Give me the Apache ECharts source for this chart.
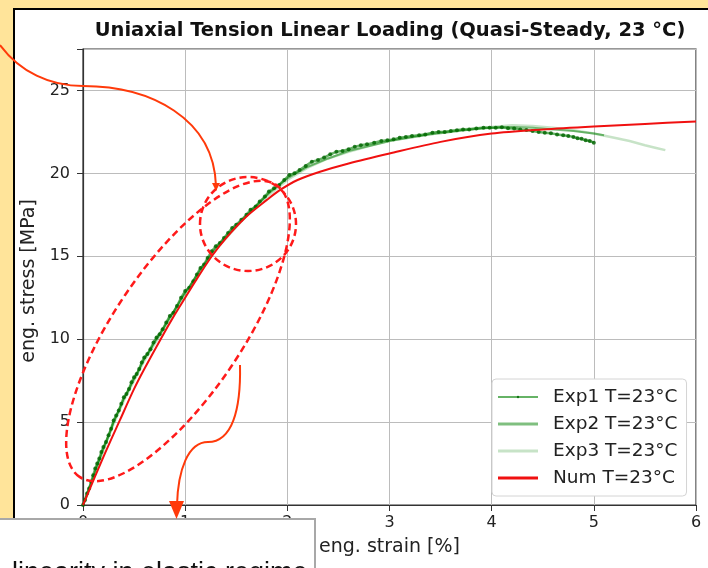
<!DOCTYPE html>
<html>
<head>
<meta charset="utf-8">
<script src="https://cdn.jsdelivr.net/npm/echarts@6/dist/echarts.min.js"></script>
<style>
  html, body { margin: 0; padding: 0; }
  #chart { width: 708px; height: 568px; }
</style>
</head>
<body>
<div id="chart"></div>
<script>
// experiment 1 (dotted, ends at 5 %)
var exp1Strain = [0, 0.02, 0.04, 0.06, 0.08, 0.1, 0.12, 0.14, 0.16, 0.18, 0.2, 0.225, 0.25, 0.275, 0.3, 0.325, 0.35, 0.375,
  0.4, 0.425, 0.45, 0.475, 0.5, 0.525, 0.55, 0.575, 0.6, 0.63, 0.66, 0.69, 0.72, 0.75, 0.78, 0.815, 0.85, 0.885, 0.92, 0.96,
  1.0, 1.04, 1.08, 1.115, 1.15, 1.185, 1.22, 1.26, 1.3, 1.34, 1.38, 1.42, 1.46, 1.5, 1.55, 1.6, 1.64, 1.69, 1.73, 1.78,
  1.82, 1.87, 1.92, 1.97, 2.02, 2.07, 2.12, 2.18, 2.24, 2.3, 2.36, 2.42, 2.48, 2.54, 2.6, 2.66, 2.72, 2.78, 2.85, 2.92,
  2.98, 3.04, 3.1, 3.16, 3.22, 3.29, 3.35, 3.42, 3.48, 3.54, 3.6, 3.66, 3.72, 3.78, 3.85, 3.92, 3.98, 4.04, 4.1, 4.16,
  4.22, 4.28, 4.34, 4.4, 4.46, 4.52, 4.58, 4.64, 4.7, 4.75, 4.8, 4.84, 4.88, 4.92, 4.96, 5.0]
var exp1Stress = [0, 0.3, 0.7, 1.0, 1.4, 1.8, 2.2, 2.5, 2.8, 3.2, 3.5, 3.8, 4.2, 4.6, 5.1, 5.4, 5.7, 6.1,
  6.5, 6.7, 7.0, 7.4, 7.7, 7.9, 8.2, 8.6, 8.9, 9.1, 9.4, 9.8, 10.1, 10.3, 10.6, 11.0, 11.4, 11.6, 12.0, 12.5,
  12.9, 13.1, 13.5, 13.9, 14.3, 14.5, 14.9, 15.3, 15.6, 15.8, 16.1, 16.4, 16.7, 16.9, 17.2, 17.5, 17.8, 18.0, 18.3, 18.6,
  18.9, 19.1, 19.3, 19.6, 19.9, 20.0, 20.2, 20.45, 20.7, 20.8, 20.95, 21.15, 21.3, 21.35, 21.45, 21.6, 21.7, 21.75, 21.85, 21.95,
  22.0, 22.05, 22.15, 22.2, 22.25, 22.3, 22.35, 22.45, 22.5, 22.5, 22.55, 22.6, 22.65, 22.65, 22.7, 22.75, 22.75, 22.75, 22.78, 22.72,
  22.7, 22.65, 22.62, 22.55, 22.5, 22.45, 22.42, 22.35, 22.3, 22.25, 22.2, 22.12, 22.08, 22.0, 21.95, 21.85]

// experiment 2
var exp2Strain = [0, 0.1, 0.2, 0.3, 0.4, 0.5, 0.6, 0.72, 0.85, 1.0, 1.15, 1.3, 1.46, 1.64, 1.82, 2.0, 2.2, 2.4, 2.6, 2.8,
  3.0, 3.2, 3.4, 3.6, 3.8, 4.0, 4.2, 4.4, 4.6, 4.8, 5.0, 5.1]
var exp2Stress = [0, 1.7, 3.4, 5.0, 6.4, 7.6, 8.8, 10.0, 11.3, 12.8, 14.2, 15.5, 16.6, 17.7, 18.8, 19.7, 20.4, 20.9, 21.35, 21.65,
  21.95, 22.15, 22.35, 22.5, 22.65, 22.75, 22.8, 22.75, 22.65, 22.55, 22.4, 22.3]

// experiment 3 (lightest, longest)
var exp3Strain = [0, 0.1, 0.2, 0.3, 0.4, 0.5, 0.6, 0.72, 0.85, 1.0, 1.15, 1.3, 1.46, 1.64, 1.82, 2.0, 2.2, 2.4, 2.6, 2.8,
  3.0, 3.2, 3.4, 3.6, 3.8, 4.0, 4.2, 4.4, 4.6, 4.8, 5.0, 5.2, 5.35, 5.5, 5.6, 5.7]
var exp3Stress = [0, 1.6, 3.3, 4.9, 6.3, 7.5, 8.7, 9.9, 11.2, 12.7, 14.1, 15.4, 16.5, 17.7, 18.7, 19.6, 20.35, 20.9, 21.3, 21.65,
  21.95, 22.2, 22.4, 22.55, 22.7, 22.8, 22.9, 22.85, 22.75, 22.6, 22.4, 22.15, 21.95, 21.7, 21.55, 21.4]

// numerical model
var numStrain = [0, 0.2, 0.36, 0.5, 0.6, 0.76, 0.9, 1.0, 1.1, 1.26, 1.4, 1.6, 1.8, 1.93, 2.1, 2.32, 2.6, 3.0, 3.5, 4.0,
  4.5, 5.0, 5.5, 6.0]
var numStress = [0, 2.9, 5.1, 7.0, 8.2, 10.0, 11.5, 12.5, 13.5, 15.0, 16.1, 17.4, 18.4, 19.0, 19.6, 20.1, 20.6, 21.2, 21.9, 22.4,
  22.65, 22.83, 22.98, 23.13]

var strainTicks = [0, 1, 2, 3, 4, 5, 6]
var stressTicks = [0, 5, 10, 15, 20, 25]

function pairs(xs, ys) {
  return xs.map(function (x, i) { return [x, ys[i]] })
}

var chart = echarts.init(document.getElementById('chart'))
var font = 'DejaVu Sans'
var red = '#ff1a1a'
var arrowRed = '#ff3a0a'

chart.setOption({
  backgroundColor: '#ffffff',
  animation: false,
  title: {
    text: 'Uniaxial Tension Linear Loading (Quasi-Steady, 23 °C)',
    left: 390,
    top: 21,
    textAlign: 'center',
    padding: 0,
    textStyle: { fontFamily: font, fontWeight: 'bold', fontSize: 19.5, color: '#111' }
  },
  legend: {
    orient: 'vertical',
    left: 492,
    top: 379,
    padding: [8, 9, 8, 5],
    itemWidth: 40,
    itemHeight: 3,
    itemGap: 7,
    backgroundColor: '#ffffff',
    borderColor: '#d4d4d4',
    borderWidth: 1,
    borderRadius: 4,
    textStyle: { fontFamily: font, fontSize: 18.5, color: '#222', padding: [0, 0, 0, 10], lineHeight: 20 },
    data: [
      { name: 'Exp1 T=23°C' },
      { name: 'Exp2 T=23°C', icon: 'rect' },
      { name: 'Exp3 T=23°C', icon: 'rect' },
      { name: 'Num T=23°C', icon: 'rect' }
    ]
  },
  grid: {
    left: 83, right: 12, top: 49, bottom: 63,
    show: true, borderColor: '#333', borderWidth: 1.2
  },
  xAxis: {
    type: 'value',
    min: strainTicks[0],
    max: strainTicks[strainTicks.length - 1],
    interval: 1,
    name: 'eng. strain [%]',
    nameLocation: 'middle',
    nameGap: 33,
    nameTextStyle: { fontFamily: font, fontSize: 19, color: '#222' },
    axisLine: { lineStyle: { color: '#333', width: 1.2 } },
    axisTick: { length: 6, lineStyle: { color: '#333' } },
    axisLabel: { margin: 10, fontFamily: font, fontSize: 16, color: '#222' },
    splitLine: { lineStyle: { color: '#bcbcbc', width: 1 } }
  },
  yAxis: {
    type: 'value',
    min: stressTicks[0],
    max: 27.5,
    interval: 5,
    name: 'eng. stress [MPa]',
    nameLocation: 'middle',
    nameGap: 43,
    nameTextStyle: { fontFamily: font, fontSize: 19, color: '#222', padding: [0, 8, 0, 0] },
    axisLine: { show: true, lineStyle: { color: '#333', width: 1.2 } },
    axisTick: { show: true, length: 6, lineStyle: { color: '#333' } },
    axisLabel: {
      margin: 13, fontFamily: font, fontSize: 16, color: '#222',
      formatter: function (v) { return stressTicks.indexOf(v) >= 0 ? String(v) : '' }
    },
    splitLine: { lineStyle: { color: '#bcbcbc', width: 1 } }
  },
  series: [
    {
      name: 'Exp1 T=23°C',
      type: 'line',
      data: pairs(exp1Strain, exp1Stress),
      symbol: 'circle',
      symbolSize: 4,
      showAllSymbol: true,
      itemStyle: { color: 'rgba(0,100,0,0.8)' },
      lineStyle: { color: 'rgba(0,128,0,0.6)', width: 2.5 },
      z: 3
    },
    {
      name: 'Exp2 T=23°C',
      type: 'line',
      data: pairs(exp2Strain, exp2Stress),
      symbol: 'none',
      itemStyle: { color: 'rgba(0,128,0,0.5)' },
      lineStyle: { color: 'rgba(0,128,0,0.5)', width: 2 },
      z: 2
    },
    {
      name: 'Exp3 T=23°C',
      type: 'line',
      data: pairs(exp3Strain, exp3Stress),
      symbol: 'none',
      itemStyle: { color: 'rgba(0,128,0,0.22)' },
      lineStyle: { color: 'rgba(0,128,0,0.22)', width: 2.5 },
      z: 2
    },
    {
      name: 'Num T=23°C',
      type: 'line',
      data: pairs(numStrain, numStress),
      symbol: 'none',
      smooth: 0.3,
      itemStyle: { color: '#f01010' },
      lineStyle: { color: '#f01010', width: 2 },
      z: 4
    }
  ],
  graphic: [
    // yellow page margins and black frame of the pasted figure
    { type: 'rect', shape: { x: 0, y: 0, width: 708, height: 8 }, style: { fill: '#ffe49a' }, z: 50 },
    { type: 'rect', shape: { x: 0, y: 0, width: 13, height: 568 }, style: { fill: '#ffe49a' }, z: 50 },
    { type: 'rect', shape: { x: 13, y: 8, width: 695, height: 2 }, style: { fill: '#000' }, z: 50 },
    { type: 'rect', shape: { x: 13, y: 8, width: 2, height: 560 }, style: { fill: '#000' }, z: 50 },
    // dashed highlight ellipses
    {
      type: 'ellipse', x: 178, y: 331, rotation: 56 * Math.PI / 180,
      shape: { cx: 0, cy: 0, rx: 176, ry: 64 },
      style: { fill: 'none', stroke: red, lineWidth: 2.5, lineDash: [7, 4] }, z: 60
    },
    {
      type: 'ellipse',
      shape: { cx: 248, cy: 224, rx: 48, ry: 47 },
      style: { fill: 'none', stroke: red, lineWidth: 2.5, lineDash: [7, 4] }, z: 60
    },
    // callout from top-left
    {
      type: 'bezierCurve',
      shape: { x1: 0, y1: 45, cpx1: 20, cpy1: 72, cpx2: 50, cpy2: 86, x2: 83, y2: 86 },
      style: { fill: 'none', stroke: arrowRed, lineWidth: 2 }, z: 60
    },
    {
      type: 'bezierCurve',
      shape: { x1: 83, y1: 86, cpx1: 150, cpy1: 86, cpx2: 214, cpy2: 118, x2: 216, y2: 186 },
      style: { fill: 'none', stroke: arrowRed, lineWidth: 2 }, z: 60
    },
    {
      type: 'polygon',
      shape: { points: [[212, 183], [220, 183], [216, 191]] },
      style: { fill: arrowRed }, z: 60
    },
    // callout down to the text box
    {
      type: 'bezierCurve',
      shape: { x1: 240, y1: 365, cpx1: 241, cpy1: 410, cpx2: 232, cpy2: 442, x2: 208, y2: 442 },
      style: { fill: 'none', stroke: arrowRed, lineWidth: 2 }, z: 60
    },
    {
      type: 'bezierCurve',
      shape: { x1: 208, y1: 442, cpx1: 188, cpy1: 442, cpx2: 178, cpy2: 470, x2: 177, y2: 505 },
      style: { fill: 'none', stroke: arrowRed, lineWidth: 2 }, z: 60
    },
    // note box
    {
      type: 'rect',
      shape: { x: -2, y: 519, width: 317, height: 60 },
      style: { fill: '#fff', stroke: '#a8a8a8', lineWidth: 2 }, z: 70
    },
    {
      type: 'polygon',
      shape: { points: [[169, 501], [184, 501], [176.5, 519]] },
      style: { fill: arrowRed }, z: 71
    },
    {
      type: 'text', x: 12, y: 574,
      style: {
        text: 'linearity in elastic regime',
        fontFamily: 'Liberation Sans', fontSize: 27, fill: '#111',
        verticalAlign: 'middle'
      },
      z: 71
    }
  ]
})
</script>
</body>
</html>
